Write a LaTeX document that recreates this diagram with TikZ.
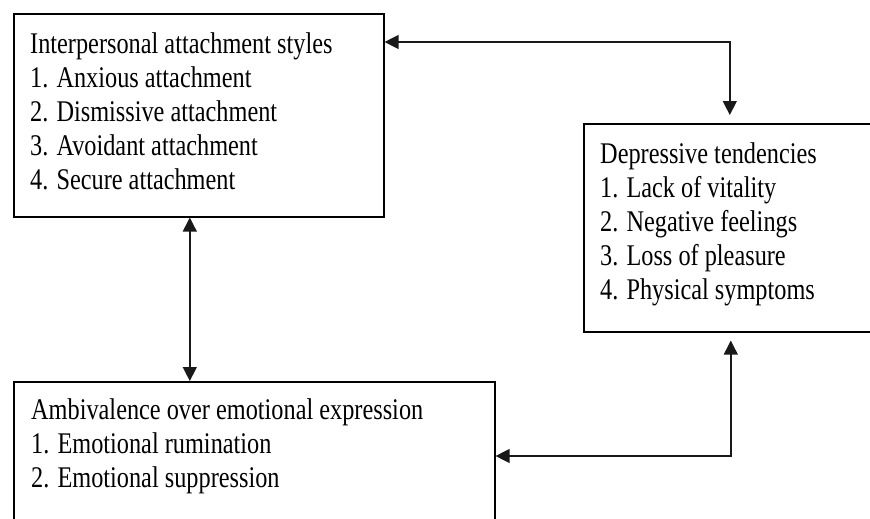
\documentclass[tikz,border=0pt]{standalone}
\usepackage{fontspec}
\setmainfont{Liberation Serif}[FakeStretch=0.81]
\usetikzlibrary{arrows.meta,calc}
\begin{document}
\begin{tikzpicture}[x=1pt,y=1pt,
  box/.style={draw=black,line width=1.6pt,inner sep=0pt,anchor=north west},
  txt/.style={anchor=north west,inner sep=0pt,align=left,
    font=\fontsize{30}{34}\selectfont},
  conn/.style={line width=1.4pt,draw=black!90,
    {Triangle[length=14pt,width=14pt]}-{Triangle[length=14pt,width=14pt]}}]
\useasboundingbox (0,0) rectangle (870,-519);
\path[fill=white] (0,0) rectangle (870,-519);
% boxes
\node[box,minimum width=370pt,minimum height=203pt] (b1) at (13,-13) {};
\node[box,minimum width=300pt,minimum height=208pt] (b2) at (583,-123) {};
\node[box,minimum width=481pt,minimum height=160pt] (b3) at (13,-381) {};
% texts
\node[txt] (t1) at (30,-32.5) {Interpersonal attachment styles\\1. Anxious attachment\\2. Dismissive attachment\\3. Avoidant attachment\\4. Secure attachment};
\node[txt] (t2) at (600,-142.8) {Depressive tendencies\\1. Lack of vitality\\2. Negative feelings\\3. Loss of pleasure\\4. Physical symptoms};
\node[txt] (t3) at (31,-398.5) {Ambivalence over emotional expression\\1. Emotional rumination\\2. Emotional suppression};
% connectors
\draw[conn,shorten >=8pt] ([yshift=-29pt]b1.north east) -| ([xshift=-4pt]b2.north);
\draw[conn,shorten >=8pt] ([yshift=-75pt]b3.north east) -| ([xshift=-3pt]b2.south);
\draw[conn] ([xshift=-9pt]b1.south) -- ([xshift=-9pt]b1.south |- b3.north);
\end{tikzpicture}
\end{document}
